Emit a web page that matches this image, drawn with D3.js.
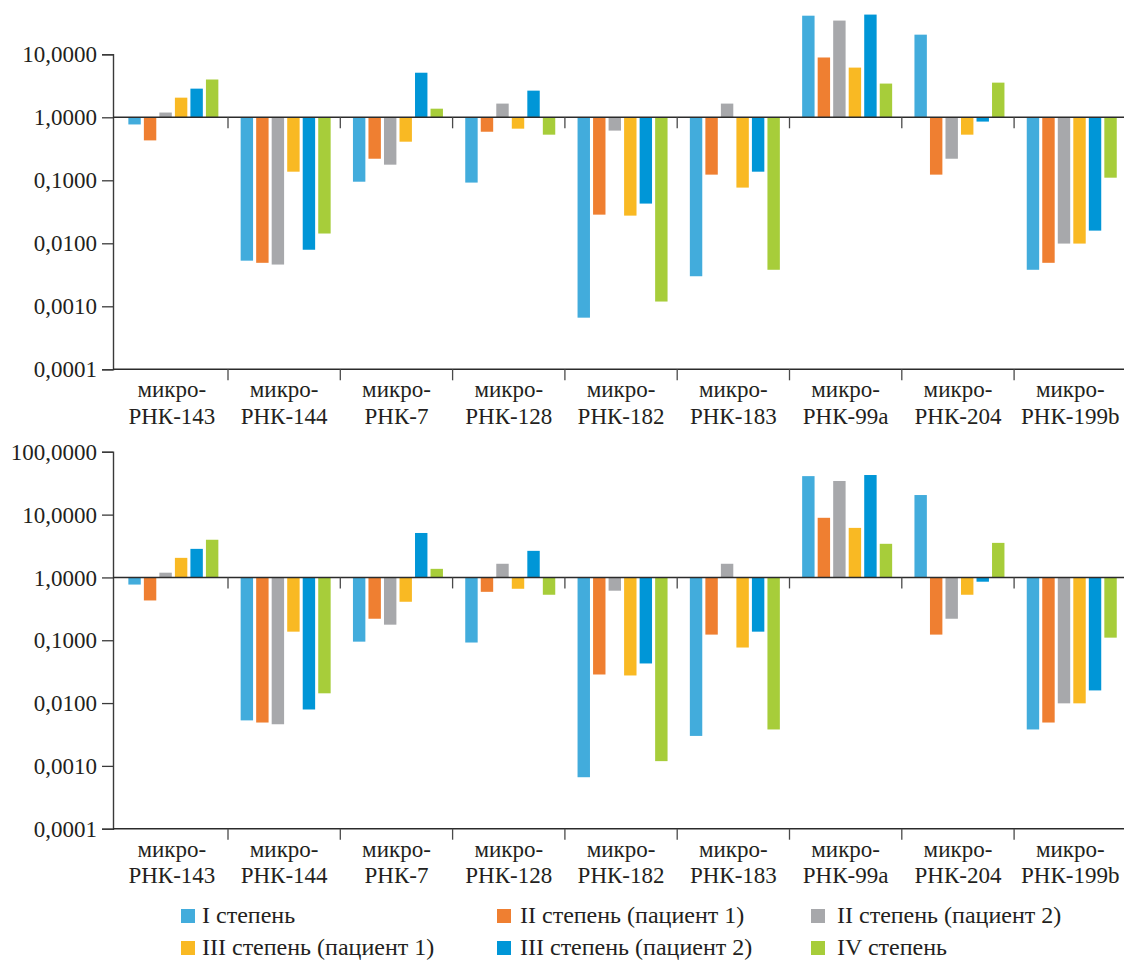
<!DOCTYPE html>
<html>
<head>
<meta charset="utf-8">
<script src="https://cdn.jsdelivr.net/npm/d3@7"></script>
<style>
  body { margin: 0; background: #fff; }
  svg text { font-family: "Liberation Serif", "DejaVu Serif", "Times New Roman", serif !important; fill: #231f20; }
</style>
</head>
<body>
<svg id="chart" width="1124" height="960"></svg>
<script>
// Categories along the x axis
var categories = ["143", "144", "7", "128", "182", "183", "99a", "204", "199b"];

// Series (legend order)
var seriesNames = ["I степень", "II степень (пациент 1)", "II степень (пациент 2)",
                   "III степень (пациент 1)", "III степень (пациент 2)", "IV степень"];
var seriesColors = ["#42acdc", "#ef7f31", "#a7a8ab", "#f9b923", "#0096d7", "#a7cd3a"];

// Relative expression values (one array per series)
var stage1   = [0.77, 0.0053, 0.095, 0.092, 0.00066, 0.0030, 41.0, 20.5, 0.0038];
var stage2p1 = [0.43, 0.0049, 0.22, 0.59, 0.0285, 0.123, 8.9, 0.123, 0.0049];
var stage2p2 = [1.19, 0.0046, 0.177, 1.65, 0.615, 1.65, 34.3, 0.22, 0.0099];
var stage3p1 = [2.05, 0.137, 0.41, 0.66, 0.0275, 0.0766, 6.15, 0.53, 0.0099];
var stage3p2 = [2.85, 0.0079, 5.1, 2.65, 0.0427, 0.137, 42.7, 0.855, 0.0159];
var stage4   = [3.98, 0.0143, 1.37, 0.53, 0.00119, 0.0038, 3.43, 3.55, 0.11];
var allSeries = [stage1, stage2p1, stage2p2, stage3p1, stage3p2, stage4];

// Tick values for the two panels
var ticksTop = [0.0001, 0.001, 0.01, 0.1, 1, 10];
var ticksBottom = [0.0001, 0.001, 0.01, 0.1, 1, 10, 100];

var svg = d3.select("#chart");
var serif = "Liberation Serif, DejaVu Serif, serif";

var axisX = 113;
var x = d3.scaleBand().domain(categories).range([115.7, 115.7 + 112.3 * 9]).padding(0);
var xs = d3.scaleBand().domain(d3.range(6)).range([12.65, 12.65 + 90]).paddingInner(0.2);

var fmt = function(d) { return d.toFixed(4).replace(".", ","); };

function drawPanel(yTop, yBottom, maxVal, tickVals) {
    var y = d3.scaleLog().domain([0.0001, maxVal]).range([yBottom, yTop]);
    var g = svg.append("g");

    // bars
    allSeries.forEach(function(vals, s) {
        g.selectAll(null).data(vals).enter().append("rect")
            .attr("x", function(d, i) { return x(categories[i]) + xs(s); })
            .attr("width", xs.bandwidth())
            .attr("y", function(d) { return d >= 1 ? y(d) : y(1); })
            .attr("height", function(d) { return Math.abs(y(d) - y(1)); })
            .attr("fill", seriesColors[s]);
    });

    // y axis
    var yAxis = d3.axisLeft(y).tickValues(tickVals).tickFormat(fmt).tickSize(11).tickPadding(5);
    var ya = g.append("g").attr("transform", "translate(" + axisX + ",0)").call(yAxis)
        .attr("font-family", serif).attr("font-size", 23);
    ya.select(".domain").attr("stroke", "#3a3a3a").attr("stroke-width", 1.4);
    ya.selectAll(".tick line").attr("stroke", "#3a3a3a").attr("stroke-width", 1.3);
    ya.selectAll(".tick text").attr("fill", "#231f20").attr("dy", "0.33em");

    // baseline at 1 and bottom axis
    var bounds = categories.map(function(c) { return x(c) + x.bandwidth(); });
    [y(1), yBottom].forEach(function(yy) {
        g.append("line").attr("x1", axisX).attr("x2", 1124).attr("y1", yy).attr("y2", yy)
            .attr("stroke", "#2b2b2b").attr("stroke-width", 1.5);
        g.selectAll(null).data(bounds).enter().append("line")
            .attr("x1", function(d) { return d; }).attr("x2", function(d) { return d; })
            .attr("y1", yy).attr("y2", yy + 11)
            .attr("stroke", "#4a4a4a").attr("stroke-width", 1.3);
    });

    // category labels
    var lab = g.selectAll(null).data(categories).enter().append("text")
        .attr("text-anchor", "middle").attr("font-size", 23).attr("font-family", serif);
    lab.append("tspan")
        .attr("x", function(d) { return x(d) + x.bandwidth() / 2; })
        .attr("y", yBottom + 28).text("микро-");
    lab.append("tspan")
        .attr("x", function(d) { return x(d) + x.bandwidth() / 2; })
        .attr("y", yBottom + 54.5).text(function(d) { return "РНК-" + d; });
}

drawPanel(54.3, 369.3, 10, ticksTop);
drawPanel(451.8, 828.7, 100, ticksBottom);

// legend
var legX = [181, 497, 811];
var legTextDx = [21, 23, 26];
var legY = [923, 955];
seriesNames.forEach(function(name, i) {
    var col = i % 3, row = Math.floor(i / 3);
    svg.append("rect").attr("x", legX[col]).attr("y", legY[row] - 14)
        .attr("width", 14).attr("height", 14).attr("fill", seriesColors[i]);
    svg.append("text").attr("x", legX[col] + legTextDx[col]).attr("y", legY[row])
        .attr("font-size", 24).attr("font-family", serif).text(name);
});
</script>
</body>
</html>
